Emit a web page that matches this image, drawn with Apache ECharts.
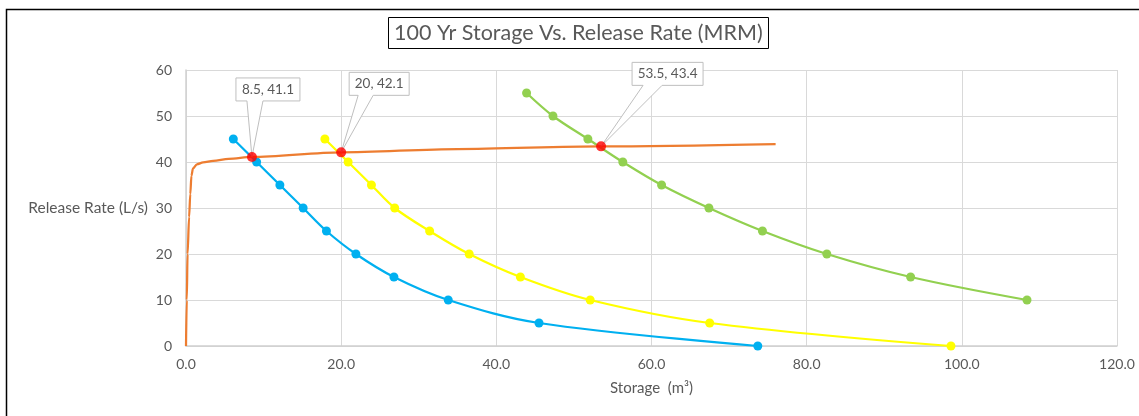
<!DOCTYPE html>
<html><head><meta charset="utf-8">
<script src="https://cdn.jsdelivr.net/npm/echarts@6/dist/echarts.min.js"></script>
<style>html,body{margin:0;padding:0;background:#fff}#c{width:1139px;height:416px}</style>
</head><body><div id="c"></div>
<script>
const titleText = "100 Yr Storage Vs. Release Rate (MRM)";
const xAxisName = "Storage  (m³)";
const yAxisName = "Release Rate (L/s)";

const blueStorage = [6.1, 9.1, 12.1, 15.1, 18.1, 21.9, 26.8, 33.8, 45.5, 73.7];
const blueRate    = [45, 40, 35, 30, 25, 20, 15, 10, 5, 0];
const yellowStorage = [17.9, 20.9, 23.9, 26.9, 31.4, 36.5, 43.1, 52.1, 67.5, 98.6];
const yellowRate    = [45, 40, 35, 30, 25, 20, 15, 10, 5, 0];
const greenStorage = [43.9, 47.3, 51.8, 56.3, 61.3, 67.4, 74.3, 82.6, 93.4, 108.4];
const greenRate    = [55, 50, 45, 40, 35, 30, 25, 20, 15, 10];
const orangeStorage = [0, 0.1, 0.2, 0.4, 0.55, 0.7, 0.9, 1.4, 2.2, 3.5, 5.5, 8.5, 20, 35, 53.5, 76];
const orangeRate    = [0, 10, 20, 28, 33, 37, 38.6, 39.5, 39.9, 40.25, 40.7, 41.1, 42.1, 42.8, 43.4, 43.9];
const crossStorage = [8.5, 20, 53.5];
const crossRate    = [41.1, 42.1, 43.4];
const crossLabels  = ["8.5, 41.1", "20, 42.1", "53.5, 43.4"];

// callout box placement relative to point (styling only): [dxLeft, dyTop, width, wedgeL, wedgeR]
const calloutStyle = [[-16, -79, 64, -5, 11], [8, -80, 60, 17, 32], [31, -84, 71, 42, 61]];
const boxH = 23;

const zip = (a, b) => a.map((v, i) => [v, b[i]]);
const FONT = 'Lato';
const GRAY = '#595959';

const chart = echarts.init(document.getElementById('c'), null, {renderer: 'canvas'});
const lineSeries = (data, color) => ({
  type: 'line', data, smooth: 0.35, symbol: 'circle', symbolSize: 9,
  lineStyle: {color, width: 2.25}, itemStyle: {color}, z: 3
});
chart.setOption({
  backgroundColor: '#fff',
  animation: false,
  textStyle: {fontFamily: FONT},
  title: {
    text: titleText, left: 388, top: 17,
    borderColor: '#000', borderWidth: 1, padding: [5, 6, 5, 6],
    textStyle: {fontFamily: FONT, fontSize: 21.5, fontWeight: 'normal', color: GRAY}
  },
  graphic: [{type: 'rect', left: 4, top: 7, shape: {width: 1160, height: 440},
    style: {fill: 'none', stroke: '#000', lineWidth: 1.5}, silent: true}],
  grid: {left: 186, right: 22, top: 70, bottom: 70},
  xAxis: {
    type: 'value', min: 0, max: 120, interval: 20,
    name: xAxisName, nameLocation: 'middle', nameGap: 35,
    nameTextStyle: {fontFamily: FONT, fontSize: 15, color: GRAY},
    axisLine: {show: true, lineStyle: {color: '#d0d0d0', width: 1.5}},
    axisTick: {show: false},
    axisLabel: {formatter: v => v.toFixed(1), color: GRAY, fontSize: 14, fontFamily: FONT, margin: 11},
    splitLine: {show: true, lineStyle: {color: '#d9d9d9', width: 1}}
  },
  yAxis: {
    type: 'value', min: 0, max: 60, interval: 10,
    name: yAxisName, nameLocation: 'middle', nameRotate: 0, nameGap: 38,
    nameTextStyle: {fontFamily: FONT, fontSize: 15.5, color: GRAY, align: 'right'},
    axisLine: {show: true, lineStyle: {color: '#d0d0d0', width: 1.5}},
    axisTick: {show: false},
    axisLabel: {color: GRAY, fontSize: 14, fontFamily: FONT, margin: 14},
    splitLine: {show: true, lineStyle: {color: '#d9d9d9', width: 1}}
  },
  series: [
    lineSeries(zip(blueStorage, blueRate), '#00B0F0'),
    lineSeries(zip(yellowStorage, yellowRate), '#FFFF00'),
    lineSeries(zip(greenStorage, greenRate), '#92D050'),
    {type: 'line', data: zip(orangeStorage, orangeRate), smooth: 0.3, smoothMonotone: 'x',
      showSymbol: false, symbol: 'none', lineStyle: {color: '#ED7D31', width: 2.25}, z: 4},
    {type: 'custom', z: 5, data: zip(crossStorage, crossRate).map((d, i) => [d[0], d[1], i]),
      renderItem: (params, api) => {
        const p = api.coord([api.value(0), api.value(1)]);
        const s = calloutStyle[api.value(2)];
        const l = p[0] + s[0], t = p[1] + s[1], r = l + s[2], b = t + boxH;
        return {type: 'group', children: [
          {type: 'polygon', shape: {points: [[l, t], [r, t], [r, b], [p[0] + s[4], b], [p[0], p[1]], [p[0] + s[3], b], [l, b]]},
            style: {fill: '#fff', stroke: '#bfbfbf', lineWidth: 1}},
          {type: 'text', x: (l + r) / 2, y: (t + b) / 2,
            style: {text: crossLabels[api.value(2)], fill: GRAY, font: '13.5px ' + FONT, align: 'center', verticalAlign: 'middle'}}
        ]};
      }
    },
    {type: 'scatter', data: zip(crossStorage, crossRate), symbolSize: 10,
      itemStyle: {color: '#FF0000'}, z: 6}
  ]
});
</script></body></html>
